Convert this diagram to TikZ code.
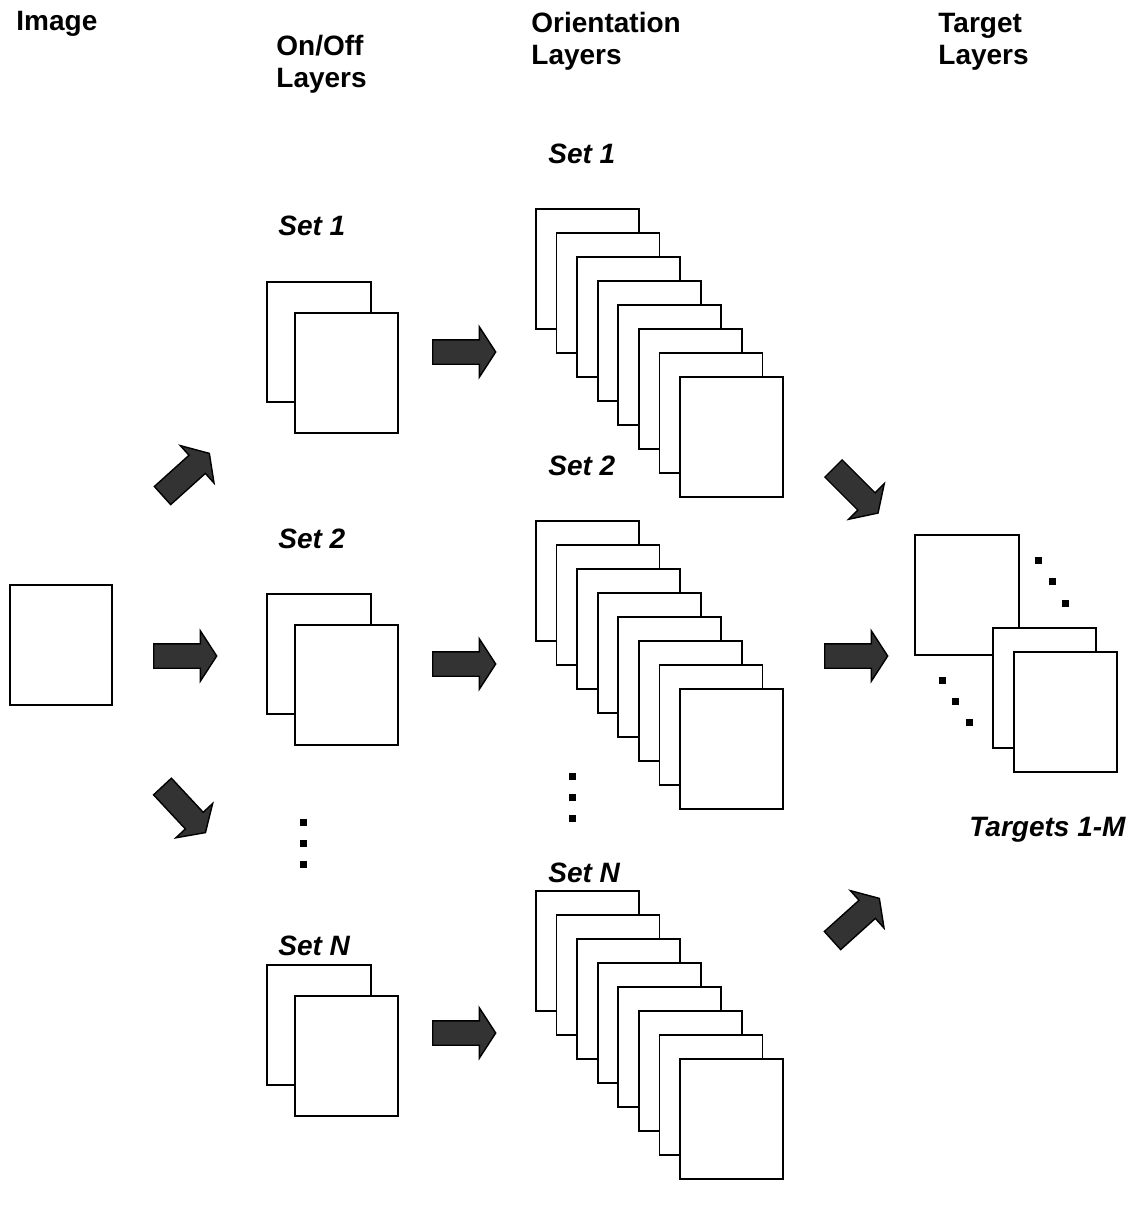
\documentclass[tikz,border=0pt]{standalone}
\usepackage{fontspec}
\setmainfont{Liberation Sans}
\usetikzlibrary{shapes.arrows}

\begin{document}
\begin{tikzpicture}[x=0.5pt,y=-0.5pt,line join=miter,
  layer/.style={draw=black,fill=white,line width=0.9pt},
  blockarrow/.style={single arrow,draw=black,fill=black!80,line width=0.7pt,anchor=tail,
    minimum height=31.5pt,inner xsep=0pt,inner ysep=5.75pt,
    single arrow head extend=6.5pt,single arrow tip angle=114},
  heading/.style={anchor=base west,inner sep=0pt,align=left,
    font=\fontsize{14}{16}\selectfont\bfseries},
  setlabel/.style={anchor=base west,inner sep=0pt,
    font=\fontsize{14}{16}\selectfont\bfseries\itshape}]
\useasboundingbox (0,0) rectangle (1129,1210);

% column headings (anchored at the baseline of the last line)
\node[heading] (himage) at (16,31) {Image};
\node[heading] (honoff) at (276,87) {On/Off\\Layers};
\node[heading] (horient) at (531,64) {Orientation\\Layers};
\node[heading] (htarget) at (938,64) {Target\\Layers};

% input image
\filldraw[layer] (10,585) rectangle (112,705);

% on/off layers
\foreach \y in {282,594,965} {
  \filldraw[layer] (267,\y) rectangle +(104,120);
  \filldraw[layer] (295,{\y+31}) rectangle +(103,120);
}
\node[setlabel] (son1) at (278,235) {Set 1};
\node[setlabel] (son2) at (278,548) {Set 2};
\node[setlabel] (sonN) at (278,955) {Set N};

% orientation layers
\foreach \y in {209,521,891}
  \foreach \i in {0,...,7}
    \filldraw[layer] ({536+20.57*\i},{\y+24*\i}) rectangle +(103,120);
\node[setlabel] (sor1) at (548,163) {Set 1};
\node[setlabel] (sor2) at (548,475) {Set 2};
\node[setlabel] (sorN) at (548,882) {Set N};

% target layers
\filldraw[layer] (915,535) rectangle (1019,655);
\filldraw[layer] (993,628) rectangle (1096,748);
\filldraw[layer] (1014,652) rectangle (1117,772);
\node[setlabel] (stgt) at (969,836) {Targets 1-M};

% dots
\foreach \p in {(303,822),(303,843),(303,864),(572,776),(572,797),(572,818),
  (1038,560),(1052,581),(1065,603),(942,680),(955,701),(969,722)}
  \fill \p +(-3.5,-3.5) rectangle +(3.5,3.5);

% block arrows
\node[blockarrow,rotate=42] (a1) at (162,496) {};
\node[blockarrow] (a2) at (153,656) {};
\node[blockarrow,rotate=-47] (a3) at (162,786) {};
\node[blockarrow] (b1) at (432,352) {};
\node[blockarrow] (b2) at (432,664) {};
\node[blockarrow] (b3) at (432,1033) {};
\node[blockarrow,rotate=-45] (c1) at (833,468) {};
\node[blockarrow] (c2) at (824,656) {};
\node[blockarrow,rotate=42] (c3) at (832,941) {};
\end{tikzpicture}
\end{document}
